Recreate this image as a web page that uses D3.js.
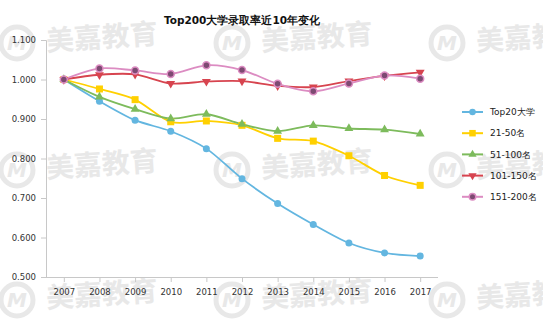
<!DOCTYPE html>
<html>
<head>
<meta charset="utf-8">
<script src="https://cdn.jsdelivr.net/npm/d3@7"></script>
<style>
  body { margin: 0; background: #fff; }
  svg { display: block; }
</style>
</head>
<body>
<div id="chart"></div>
<script>
// data
const years = ["2007","2008","2009","2010","2011","2012","2013","2014","2015","2016","2017"];
const yTicks = [0.5, 0.6, 0.7, 0.8, 0.9, 1.0, 1.1];
const top20 = [1.000, 0.945, 0.897, 0.869, 0.825, 0.749, 0.686, 0.633, 0.586, 0.561, 0.553];
const r21_50 = [1.000, 0.976, 0.949, 0.893, 0.895, 0.884, 0.851, 0.844, 0.807, 0.757, 0.732];
const r51_100 = [1.000, 0.956, 0.925, 0.901, 0.912, 0.887, 0.869, 0.884, 0.876, 0.873, 0.862];
const r101_150 = [1.000, 1.012, 1.013, 0.990, 0.995, 0.996, 0.984, 0.981, 0.996, 1.009, 1.018];
const r151_200 = [1.000, 1.028, 1.023, 1.014, 1.036, 1.024, 0.989, 0.970, 0.990, 1.010, 1.002];
const names = ["Top20大学", "21-50名", "51-100名", "101-150名", "151-200名"];

const series = [
  {name: names[0], values: top20, line: "#63b6e0", fill: "#63b6e0", stroke: "none", shape: "circle"},
  {name: names[1], values: r21_50, line: "#ffd000", fill: "#ffd000", stroke: "none", shape: "square"},
  {name: names[2], values: r51_100, line: "#7dbb5c", fill: "#7dbb5c", stroke: "none", shape: "triUp"},
  {name: names[3], values: r101_150, line: "#d7444f", fill: "#d7444f", stroke: "none", shape: "triDown"},
  {name: names[4], values: r151_200, line: "#dc8cc2", fill: "#7d4a72", stroke: "#dc8cc2", shape: "circle"}
];

const W = 543, H = 332;
const svg = d3.select("#chart").append("svg")
    .attr("width", W).attr("height", H)
    .style("font-family", "'DejaVu Sans', sans-serif");

// watermark
const wm = svg.append("g").attr("fill", "#e8e8e8");
[43, 170, 300].forEach(cy => {
  [17, 232, 447].forEach(cx => {
    const g = wm.append("g").attr("transform", `translate(${cx},${cy})`);
    g.append("circle").attr("r", 16).attr("fill", "none")
      .attr("stroke", "#e8e8e8").attr("stroke-width", 5);
    g.append("text").attr("text-anchor", "middle").attr("dy", "0.36em")
      .attr("font-size", 20).attr("font-weight", "bold").attr("font-style", "italic")
      .text("M");
    g.append("text").attr("x", 29).attr("dy", "0.36em")
      .attr("transform", "rotate(-4)")
      .attr("font-size", 28).attr("font-weight", "bold")
      .style("font-family", "'Noto Sans CJK SC', sans-serif")
      .text("美嘉教育");
  });
});

const x = d3.scalePoint().domain(years).range([46, 438]).padding(0.5);
const y = d3.scaleLinear().domain([0.5, 1.1]).range([277, 40]);

// title
svg.append("text")
  .attr("x", 242).attr("y", 24)
  .attr("text-anchor", "middle")
  .attr("font-size", 10.5).attr("font-weight", "bold")
  .attr("fill", "#111")
  .text("Top200大学录取率近10年变化");

// axes
const yAxis = svg.append("g")
  .attr("transform", "translate(46,0)")
  .call(d3.axisLeft(y).tickValues(yTicks).tickFormat(d3.format(".3f")).tickSize(5).tickPadding(5));
yAxis.select(".domain").attr("stroke", "#c8c8c8");
yAxis.selectAll(".tick line").attr("stroke", "#c8c8c8");
yAxis.selectAll("text").attr("font-size", 8.5).attr("fill", "#333")
  .style("font-family", "'DejaVu Sans', sans-serif");

const xAxis = svg.append("g")
  .attr("transform", "translate(0,277)")
  .call(d3.axisBottom(x).tickSizeOuter(0).tickSize(5).tickPadding(7));
xAxis.select(".domain").attr("stroke", "#c8c8c8").attr("d", "M41,0.5H438");
xAxis.selectAll(".tick line").attr("stroke", "#c8c8c8");
xAxis.selectAll("text").attr("font-size", 8.5).attr("fill", "#333")
  .style("font-family", "'DejaVu Sans', sans-serif");

const line = d3.line()
  .x((d, i) => x(years[i]))
  .y(d => y(d))
  .curve(d3.curveCardinal.tension(0.1));

function marker(sel, s, size) {
  if (s.shape === "circle") {
    sel.append("circle").attr("r", size * 0.5)
      .attr("fill", s.fill).attr("stroke", s.stroke).attr("stroke-width", 1.5);
  } else if (s.shape === "square") {
    sel.append("rect").attr("x", -size * 0.5).attr("y", -size * 0.5)
      .attr("width", size).attr("height", size).attr("fill", s.fill);
  } else if (s.shape === "triUp") {
    sel.append("path").attr("d", d3.symbol(d3.symbolTriangle, size * size * 0.7)()).attr("fill", s.fill);
  } else {
    sel.append("path").attr("d", d3.symbol(d3.symbolTriangle, size * size * 0.7)())
      .attr("transform", "rotate(180)").attr("fill", s.fill);
  }
}

const plot = svg.append("g");
series.forEach(s => {
  plot.append("path")
    .attr("d", line(s.values))
    .attr("fill", "none")
    .attr("stroke", s.line)
    .attr("stroke-width", 1.8);
});
series.forEach(s => {
  s.values.forEach((v, i) => {
    const g = plot.append("g").attr("transform", `translate(${x(years[i])},${y(v)})`);
    marker(g, s, 7);
  });
});

// legend
const legend = svg.append("g");
series.forEach((s, i) => {
  const ly = 112 + i * 21.2;
  const g = legend.append("g").attr("transform", `translate(0,${ly})`);
  g.append("line").attr("x1", 462).attr("x2", 483).attr("y1", 0).attr("y2", 0)
    .attr("stroke", s.line).attr("stroke-width", 2);
  const m = g.append("g").attr("transform", "translate(472.5,0)");
  marker(m, s, 6.5);
  g.append("text").attr("x", 490).attr("dy", "0.35em")
    .attr("font-size", 9).attr("fill", "#222")
    .text(s.name);
});
</script>
</body>
</html>
